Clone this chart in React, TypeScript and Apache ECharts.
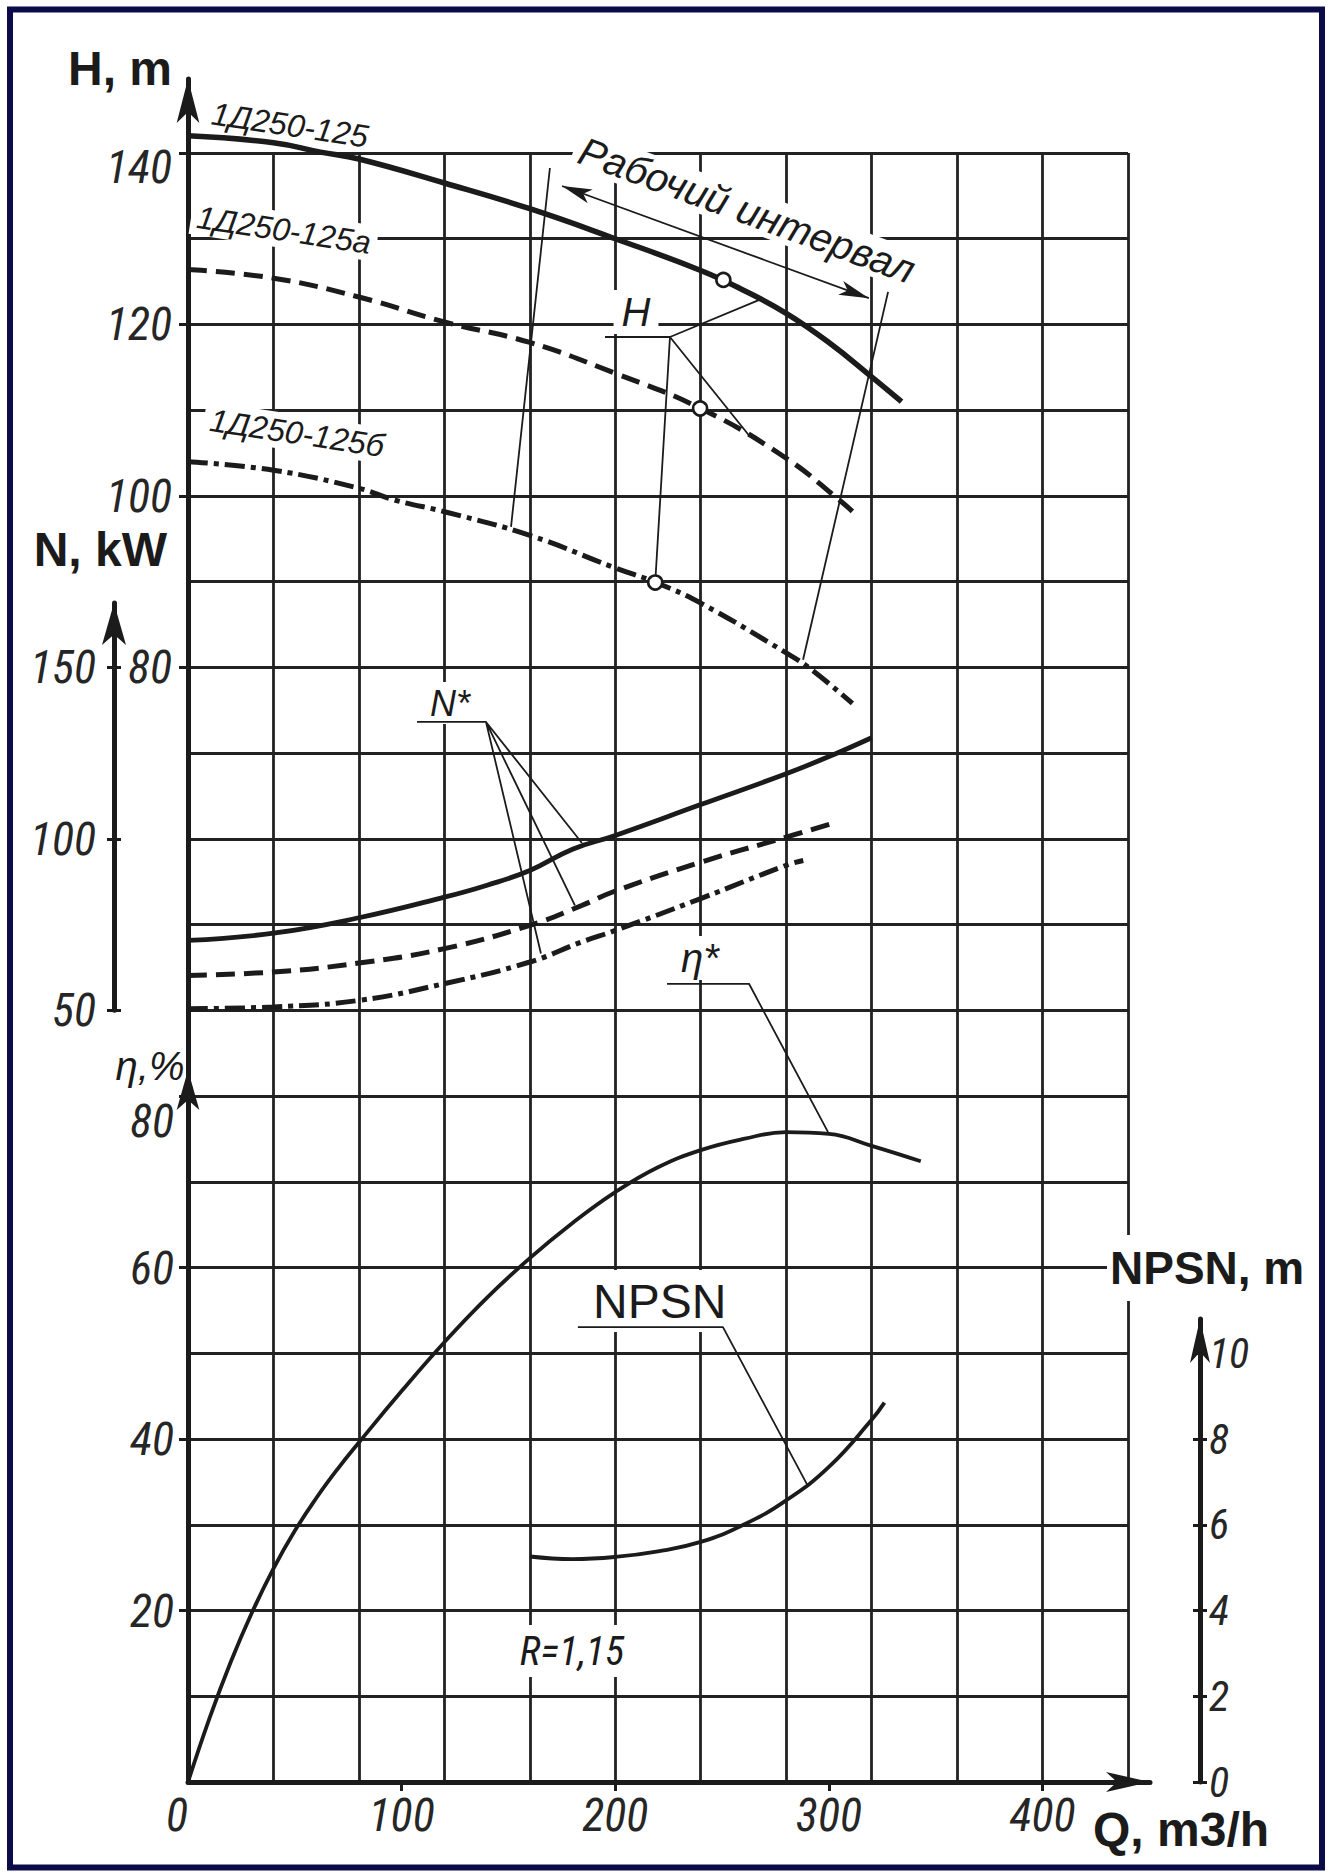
import React, { useEffect, useRef } from 'react';
import * as echarts from 'echarts';

type Pt = [number, number];

// ---------- tick labels ----------
const Q_LABELS = [0, 100, 200, 300, 400];
const Q_TICKS = [100, 200, 300, 400];
const H_LABELS = [80, 100, 120, 140];
const N_LABELS = [50, 100, 150];
const ETA_LABELS = [20, 40, 60, 80];
const NPSH_LABELS = [0, 2, 4, 6, 8, 10];

// ---------- curves: [Q m3/h, value] ----------
const headFull: Pt[] = [[0, 142.0], [40, 141.2], [62, 140.1], [80, 139.3], [120, 136.5], [160, 133.5], [200, 130.0], [240, 126.3], [260, 124.0], [280, 121.3], [300, 117.9], [320, 113.9], [334, 111.0]];
const headA: Pt[] = [[0, 126.4], [40, 125.4], [80, 123.2], [120, 120.3], [160, 117.9], [200, 114.3], [240, 110.2], [280, 104.4], [305, 99.5], [311, 98.2]];
const headB: Pt[] = [[0, 104.0], [40, 103.0], [80, 100.9], [97, 99.5], [121, 98.1], [160, 95.4], [200, 91.6], [219, 89.9], [240, 87.5], [280, 81.7], [291, 79.9], [311, 75.8]];
const powerFull: Pt[] = [[0, 70.4], [40, 72.5], [80, 77.0], [120, 83.0], [140, 86.5], [160, 90.8], [180, 97.0], [200, 101.0], [240, 110.0], [280, 119.0], [300, 124.0], [320, 129.5]];
const powerA: Pt[] = [[0, 60.2], [40, 61.2], [80, 63.8], [120, 68.0], [160, 74.8], [184, 80.5], [200, 84.8], [240, 93.2], [280, 100.5], [302, 104.6]];
const powerB: Pt[] = [[0, 50.5], [40, 51.0], [80, 52.9], [120, 57.8], [160, 64.1], [184, 69.9], [200, 73.3], [240, 82.6], [280, 92.3], [288, 93.7]];
const efficiency: Pt[] = [[0, 0], [10, 7.4], [20, 14.0], [30, 19.8], [40, 24.9], [50, 29.3], [60, 33.1], [70, 36.5], [80, 39.6], [100, 45.6], [120, 51.3], [140, 56.5], [160, 61.1], [180, 65.2], [200, 68.8], [220, 71.7], [240, 73.7], [260, 75.0], [280, 75.8], [300, 75.6], [320, 74.2], [343, 72.4]];
const npsh: Pt[] = [[160, 5.26], [180, 5.2], [200, 5.25], [220, 5.38], [240, 5.6], [260, 6.0], [280, 6.57], [300, 7.35], [320, 8.45], [326, 8.85]];

// duty points on the head curves
const dutyPoints: Pt[] = [[250.6, 125.2], [239.7, 110.2], [218.7, 89.9]];

// working interval (Q, H)
const workLeft: Pt[] = [[169.4, 138.25], [151.2, 96.4]];
const workRight: Pt[] = [[327.7, 123.8], [287.9, 80.9]];
const workArrow: Pt[] = [[175.1, 136.15], [318.7, 123.07]];

// leader lines of the annotations
const leaderH: Pt[] = [[195.2, 118.54], [225.6, 118.54], [267.7, 122.9], [225.6, 118.54], [263.1, 106.9], [225.6, 118.54], [218.7, 89.9]];
const leaderN: Pt[] = [[107.2, 134.1], [139.5, 134.1], [184.4, 98.8], [139.5, 134.1], [181.1, 80.6], [139.5, 134.1], [165.2, 66.6]];
const leaderEta: Pt[] = [[224.2, 93.1], [262.6, 93.1], [299.6, 75.8]];
const leaderNpsh: Pt[] = [[182.5, 10.61], [250.4, 10.61], [289.7, 6.95]];

// ---------- layout ----------
const INK = '#1b1b1b';
const GRIDC = '#222222';
const NUM_FONT = '"Liberation Sans Narrow", "Arial Narrow", "Roboto Condensed", "Liberation Sans", Arial, sans-serif';
const SANS = '"Liberation Sans", Arial, Helvetica, sans-serif';

const X0 = 188;
const X_GRID_END = 1128;
const Q_GRID_MAX = 440;
const PX_PER_Q = (X_GRID_END - X0) / Q_GRID_MAX;
const Y_TOP = 153;
const Y_BOT = 1782;
const ROW = (Y_BOT - Y_TOP) / 19;
const H_TOP = 79;
const N_TOP = 603;
const N_BOT = Y_TOP + 10 * ROW;
const ETA_TOP = 1070;
const X_END = 1150;
const NPSH_TOP = 1319;
const NPSH_X = 1200;

const qAt = (px: number) => (px - X0) / PX_PER_Q;
function yRange(top: number, bottom: number, v0: number, y0: number, step: number) {
  return { min: v0 - ((bottom - y0) / ROW) * step, max: v0 + ((y0 - top) / ROW) * step };
}

const numLabel = { fontFamily: NUM_FONT, fontStyle: 'italic', fontSize: 46, color: '#262626' };

function hiddenX(gridIndex: number, right: number) {
  return { type: 'value', gridIndex, min: 0, max: qAt(right), show: false, axisLine: { onZero: false } };
}

function curve(data: Pt[], xi: number, yi: number, width: number, dash: any = 'solid', z = 3) {
  return {
    type: 'line', data, xAxisIndex: xi, yAxisIndex: yi, smooth: 0.45,
    symbol: 'none', silent: true, clip: false, z,
    lineStyle: { color: INK, width, type: dash },
  };
}
function thin(data: Pt[], xi: number, yi: number, extra: any = {}) {
  return {
    type: 'line', data, xAxisIndex: xi, yAxisIndex: yi, smooth: false,
    symbol: 'none', silent: true, clip: false, z: 3,
    lineStyle: { color: INK, width: 1.8 }, ...extra,
  };
}

function txt(text: string, x: number, y: number, font: string, o: { align?: string; rot?: number; bg?: boolean; pad?: number[] } = {}) {
  return {
    type: 'text', x, y, rotation: o.rot ?? 0, z: 1, silent: true,
    style: {
      text, font, fill: INK, align: o.align ?? 'center', verticalAlign: 'middle',
      ...(o.bg ? { backgroundColor: '#ffffff', padding: o.pad ?? [2, 4] } : {}),
    },
  };
}

function buildOption(): any {
  const hR = yRange(H_TOP, Y_BOT, 140, Y_TOP, 10);
  const nR = yRange(N_TOP, N_BOT, 150, Y_TOP + 6 * ROW, 25);
  const eR = yRange(ETA_TOP, Y_BOT, 0, Y_BOT, 10);
  const pR = yRange(NPSH_TOP, Y_BOT, 0, Y_BOT, 2);
  const gridBase = { left: X0, containLabel: false, outerBoundsMode: 'none' };
  const axisLineStyle = { color: INK, width: 5 };
  const tickStyle = { color: INK, width: 3 };

  const dashed = [19, 9];
  const dashDot = [20, 6, 5, 6];

  return {
    animation: false,
    backgroundColor: '#ffffff',
    grid: [
      { ...gridBase, top: Y_TOP, width: X_GRID_END - X0, height: Y_BOT - Y_TOP },
      { ...gridBase, top: H_TOP, width: X_GRID_END - X0, height: Y_BOT - H_TOP },
      { ...gridBase, top: N_TOP, width: X_GRID_END - X0, height: N_BOT - N_TOP },
      { ...gridBase, top: ETA_TOP, width: X_END - X0, height: Y_BOT - ETA_TOP },
      { ...gridBase, top: NPSH_TOP, width: NPSH_X - X0, height: Y_BOT - NPSH_TOP },
    ],
    xAxis: [
      {
        type: 'value', gridIndex: 0, min: 0, max: Q_GRID_MAX, interval: 40,
        axisLine: { show: false, onZero: false }, axisTick: { show: false }, axisLabel: { show: false },
        splitLine: { show: true, lineStyle: { color: GRIDC, width: 2.8 } },
      },
      hiddenX(1, X_GRID_END),
      hiddenX(2, X_GRID_END),
      {
        type: 'value', gridIndex: 3, min: 0, max: qAt(X_END),
        axisLine: { show: true, onZero: false, symbol: ['none', 'arrow'], symbolSize: [15, 44], lineStyle: axisLineStyle },
        axisTick: { show: true, customValues: Q_TICKS, length: 9, lineStyle: tickStyle },
        axisLabel: { show: true, customValues: Q_LABELS, margin: 10, alignMinLabel: 'right', ...numLabel },
        splitLine: { show: false },
      },
      hiddenX(4, NPSH_X),
    ],
    yAxis: [
      {
        type: 'value', gridIndex: 0, min: 0, max: 19, interval: 1,
        axisLine: { show: false, onZero: false }, axisTick: { show: false }, axisLabel: { show: false },
        splitLine: { show: true, lineStyle: { color: GRIDC, width: 2.8 } },
      },
      {
        type: 'value', gridIndex: 1, min: hR.min, max: hR.max, position: 'left',
        axisLine: { show: true, onZero: false, symbol: ['none', 'arrow'], symbolSize: [17, 44], lineStyle: axisLineStyle },
        axisTick: { show: true, customValues: H_LABELS, length: 9, lineStyle: tickStyle },
        axisLabel: {
          show: true, customValues: H_LABELS, margin: 16, lineHeight: 28, ...numLabel,
          formatter: (v: number) => (v === 140 ? '\n140' : String(v)),
        },
        splitLine: { show: false },
      },
      {
        type: 'value', gridIndex: 2, min: nR.min, max: nR.max, position: 'left', offset: X0 - 114,
        axisLine: { show: true, onZero: false, symbol: ['none', 'arrow'], symbolSize: [18, 42], lineStyle: axisLineStyle },
        axisTick: { show: true, customValues: N_LABELS, length: 7, lineStyle: tickStyle },
        axisLabel: { show: true, customValues: N_LABELS, margin: 18, ...numLabel },
        splitLine: { show: false },
      },
      {
        type: 'value', gridIndex: 2, min: nR.min, max: nR.max, position: 'left', offset: X0 - 114,
        axisLine: { show: false, onZero: false },
        axisTick: { show: true, inside: true, customValues: N_LABELS, length: 7, lineStyle: tickStyle },
        axisLabel: { show: false }, splitLine: { show: false },
      },
      {
        type: 'value', gridIndex: 3, min: eR.min, max: eR.max, position: 'left',
        axisLine: { show: true, onZero: false, symbol: ['none', 'arrow'], symbolSize: [17, 40], lineStyle: axisLineStyle },
        axisTick: { show: true, customValues: ETA_LABELS, length: 9, lineStyle: tickStyle },
        axisLabel: {
          show: true, customValues: ETA_LABELS, margin: 14, lineHeight: 50, ...numLabel,
          formatter: (v: number) => (v === 80 ? '\n80' : String(v)),
        },
        splitLine: { show: false },
      },
      {
        type: 'value', gridIndex: 4, min: pR.min, max: pR.max, position: 'right',
        axisLine: { show: true, onZero: false, symbol: ['none', 'arrow'], symbolSize: [15, 44], lineStyle: axisLineStyle },
        axisTick: { show: true, customValues: NPSH_LABELS, length: 7, lineStyle: tickStyle },
        axisLabel: { show: true, customValues: NPSH_LABELS, margin: 9, ...numLabel, fontSize: 42 },
        splitLine: { show: false },
      },
      {
        type: 'value', gridIndex: 4, min: pR.min, max: pR.max, position: 'right',
        axisLine: { show: false, onZero: false },
        axisTick: { show: true, inside: true, customValues: NPSH_LABELS, length: 7, lineStyle: tickStyle },
        axisLabel: { show: false }, splitLine: { show: false },
      },
    ],
    series: [
      // head curves
      curve(headFull, 1, 1, 5.5),
      curve(headA, 1, 1, 5, dashed),
      curve(headB, 1, 1, 5, dashDot),
      {
        type: 'scatter', data: dutyPoints, xAxisIndex: 1, yAxisIndex: 1, symbol: 'circle', symbolSize: 14,
        silent: true, z: 6, itemStyle: { color: '#ffffff', opacity: 1, borderColor: INK, borderWidth: 2.6 },
      },
      thin(workLeft, 1, 1, {
        markLine: {
          silent: true, symbol: ['arrow', 'arrow'], symbolSize: [11, 30], label: { show: false },
          lineStyle: { color: INK, width: 1.8, type: 'solid' },
          data: [[{ coord: workArrow[0] }, { coord: workArrow[1] }]],
        },
      }),
      thin(workRight, 1, 1),
      thin(leaderH, 1, 1),
      // power curves
      curve(powerFull, 2, 2, 4.8),
      curve(powerA, 2, 2, 5, dashed),
      curve(powerB, 2, 2, 5, dashDot),
      thin(leaderN, 2, 2),
      // efficiency
      curve(efficiency, 3, 4, 3.8),
      thin(leaderEta, 3, 4),
      // NPSH
      curve(npsh, 4, 5, 3.8),
      thin(leaderNpsh, 4, 5),
    ],
    graphic: {
      elements: [
        txt('H, m', 172, 68, `bold 48px ${SANS}`, { align: 'right' }),
        txt('N, kW', 167, 549, `bold 48px ${SANS}`, { align: 'right' }),
        txt('NPSN, m', 1107, 1268, `bold 46px ${SANS}`, { align: 'left', bg: true, pad: [16, 4, 4, 3] }),
        txt('Q, m3/h', 1093, 1829, `bold 48px ${SANS}`, { align: 'left' }),
        txt('NPSN', 585, 1301, `48px ${SANS}`, { align: 'left', bg: true, pad: [12, 10, 2, 8] }),
        txt('Рабочий интервал', 747, 210, `italic 40px ${SANS}`, { rot: -0.351, bg: true, pad: [0, 6] }),
        txt('1Д250-125', 290, 125, `italic 32px ${SANS}`, { rot: -0.15 }),
        txt('1Д250-125а', 284, 230, `italic 32px ${SANS}`, { rot: -0.15, bg: true, pad: [2, 6] }),
        txt('1Д250-125б', 297, 433, `italic 32px ${SANS}`, { rot: -0.15, bg: true, pad: [2, 6] }),
        txt('H', 636, 312, `italic 40px ${SANS}`, { bg: true, pad: [2, 8] }),
        txt('N*', 450, 703, `italic 36px ${SANS}`, { bg: true, pad: [6, 4, 0, 4] }),
        txt('η*', 700, 958, `italic 40px ${SANS}`, { bg: true, pad: [4, 4, 0, 4] }),
        txt('η,%', 150, 1066, `italic 40px ${SANS}`),
        txt('R=1,15', 572, 1651, `italic 40px ${NUM_FONT}`, { bg: true, pad: [6, 6] }),
        {
          type: 'rect', z: 20, silent: true,
          shape: { x: 10, y: 9.5, width: 1312, height: 1858 },
          style: { fill: 'none', stroke: '#0b0b4a', lineWidth: 6 },
        },
      ],
    },
  };
}

export default function App() {
  const ref = useRef<HTMLDivElement>(null);
  useEffect(() => {
    if (!ref.current) return;
    const chart = echarts.init(ref.current, null, { renderer: 'svg' });
    chart.setOption(buildOption());
    return () => chart.dispose();
  }, []);
  return (
    <div
      ref={ref}
      style={{ position: 'absolute', left: 0, top: 0, width: 1329, height: 1876, background: '#ffffff' }}
    />
  );
}
